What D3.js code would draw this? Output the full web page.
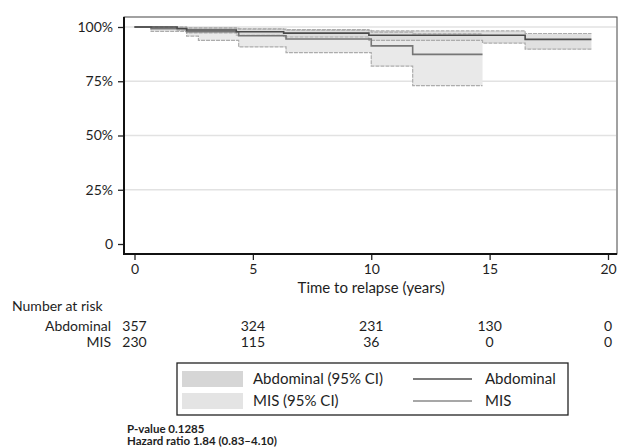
<!DOCTYPE html>
<html>
<head>
<meta charset="utf-8">
<script src="https://cdn.jsdelivr.net/npm/d3@7"></script>
<style>
  body { margin: 0; background: #fff; }
  svg text { font-family: Lato, "Open Sans", sans-serif; fill: #1e1e1e; }
</style>
</head>
<body>
<div id="chart"></div>
<script>
// Kaplan-Meier style step data (percent relapse-free)
const abdTime = [0, 1.8, 2.2, 4.3, 6.3, 9.9, 14.7, 16.5, 19.3];
const abdEst  = [100, 99.3, 98.6, 97.8, 97.2, 96.2, 96.2, 94.3, 94.3];
const abdHi   = [100, 100, 99.6, 99.2, 98.8, 98.2, 98.2, 97.0, 97.0];
const abdLo   = [100, 98.5, 97.3, 96.2, 95.4, 93.8, 92.6, 89.8, 89.8];

const misTime = [0, 0.7, 2.2, 2.7, 4.4, 6.4, 10.0, 11.75, 14.7];
const misEst  = [100, 99.2, 97.8, 97.8, 96.0, 94.5, 91.3, 87.4, 87.4];
const misHi   = [100, 100, 99.5, 99.5, 99.0, 98.5, 97.6, 96.8, 96.8];
const misLo   = [100, 98.0, 95.8, 93.8, 90.8, 88.2, 82.0, 73.0, 73.0];

const xTicks = [0, 5, 10, 15, 20];
const yTicks = [0, 25, 50, 75, 100];
const yTickLabels = ["0", "25%", "50%", "75%", "100%"];

const riskGroups = ["Abdominal", "MIS"];
const riskAbd = [357, 324, 231, 130, 0];
const riskMis = [230, 115, 36, 0, 0];

const width = 618, height = 448;

var svg = d3.select("#chart").append("svg")
    .attr("width", width)
    .attr("height", height);

var x = d3.scaleLinear().domain([0, 20]).range([134.5, 608]);
var y = d3.scaleLinear().domain([0, 100]).range([244, 27]);

var plotLeft = 124, plotRight = 617, plotTop = 17, plotBottom = 254;

// frame
svg.append("rect")
    .attr("x", plotLeft).attr("y", plotTop)
    .attr("width", plotRight - plotLeft).attr("height", plotBottom - plotTop)
    .attr("fill", "none").attr("stroke", "#444").attr("stroke-width", 1);

// gridlines
svg.selectAll("line.grid")
    .data(yTicks.filter(d => d > 0))
    .enter().append("line")
    .attr("class", "grid")
    .attr("x1", plotLeft + 1).attr("x2", plotRight - 1)
    .attr("y1", d => y(d)).attr("y2", d => y(d))
    .attr("stroke", "#e2e2e2").attr("stroke-width", 1.5);

function rows(t, a, b, c) {
    return t.map((d, i) => ({ t: d, est: a[i], hi: b[i], lo: c[i] }));
}
var abdRows = rows(abdTime, abdEst, abdHi, abdLo);
var misRows = rows(misTime, misEst, misHi, misLo);

var area = d3.area()
    .curve(d3.curveStepAfter)
    .x(d => x(d.t))
    .y0(d => y(d.lo))
    .y1(d => y(d.hi));

function stepLine(key) {
    return d3.line()
        .curve(d3.curveStepAfter)
        .x(d => x(d.t))
        .y(d => y(d[key]));
}

// CI bands
svg.append("path").attr("d", area(misRows)).attr("fill", "#e9e9e9");
svg.append("path").attr("d", area(abdRows)).attr("fill", "#dadada").attr("fill-opacity", 0.85);

// CI bounds
[misRows, abdRows].forEach(function (r) {
    ["hi", "lo"].forEach(function (k) {
        svg.append("path")
            .attr("d", stepLine(k)(r))
            .attr("fill", "none")
            .attr("stroke", "#acacac")
            .attr("stroke-width", 1.2)
            .attr("stroke-dasharray", "4,1");
    });
});

// estimates
svg.append("path")
    .attr("d", stepLine("est")(misRows))
    .attr("fill", "none").attr("stroke", "#767676").attr("stroke-width", 1.6);
svg.append("path")
    .attr("d", stepLine("est")(abdRows))
    .attr("fill", "none").attr("stroke", "#4a4a4a").attr("stroke-width", 1.6);

// axes
var yAxis = svg.append("g")
    .attr("transform", "translate(" + plotLeft + ",0)")
    .call(d3.axisLeft(y).tickValues(yTicks).tickSize(6).tickPadding(5)
        .tickFormat((d, i) => yTickLabels[i]));
var xAxis = svg.append("g")
    .attr("transform", "translate(0," + plotBottom + ")")
    .call(d3.axisBottom(x).tickValues(xTicks).tickSize(6).tickPadding(4));

[yAxis, xAxis].forEach(function (g) {
    g.select(".domain").remove();
    g.selectAll(".tick line").attr("stroke", "#222").attr("stroke-width", 1.3);
    g.selectAll(".tick text").style("font-size", "14px").attr("fill", "#1e1e1e");
});

svg.append("line")
    .attr("x1", plotLeft).attr("x2", plotLeft)
    .attr("y1", plotTop).attr("y2", plotBottom + 1)
    .attr("stroke", "#111").attr("stroke-width", 2);
svg.append("line")
    .attr("x1", plotLeft - 1).attr("x2", plotRight)
    .attr("y1", plotBottom).attr("y2", plotBottom)
    .attr("stroke", "#111").attr("stroke-width", 2);

svg.append("text")
    .attr("x", x(10)).attr("y", 293)
    .attr("text-anchor", "middle")
    .style("font-size", "15px")
    .text("Time to relapse (years)");

// number at risk table
svg.append("text")
    .attr("x", 12).attr("y", 311)
    .style("font-size", "14px")
    .text("Number at risk");

var riskData = [riskAbd, riskMis];
riskGroups.forEach(function (g, gi) {
    var yy = 331 + gi * 16;
    svg.append("text")
        .attr("x", 111).attr("y", yy)
        .attr("text-anchor", "end")
        .style("font-size", "14px")
        .text(g);
    svg.selectAll("text.risk" + gi)
        .data(riskData[gi])
        .enter().append("text")
        .attr("class", "risk" + gi)
        .attr("x", (d, i) => x(xTicks[i]))
        .attr("y", yy)
        .attr("text-anchor", "middle")
        .style("font-size", "14px")
        .text(d => d);
});

// legend
var legend = svg.append("g");
legend.append("rect")
    .attr("x", 177).attr("y", 363)
    .attr("width", 391).attr("height", 52)
    .attr("fill", "#fff").attr("stroke", "#222").attr("stroke-width", 1.3);

var legItems = [
    { band: "#d6d6d6", label: "Abdominal (95% CI)", line: "#4f4f4f", name: "Abdominal" },
    { band: "#e4e4e4", label: "MIS (95% CI)", line: "#8a8a8a", name: "MIS" }
];
var leg = legend.selectAll("g.item")
    .data(legItems)
    .enter().append("g")
    .attr("class", "item")
    .attr("transform", (d, i) => "translate(0," + (371 + i * 22) + ")");
leg.append("rect")
    .attr("x", 182).attr("y", 0)
    .attr("width", 61).attr("height", 16)
    .attr("fill", d => d.band);
leg.append("text")
    .attr("x", 253).attr("y", 13)
    .style("font-size", "15px")
    .text(d => d.label);
leg.append("line")
    .attr("x1", 413).attr("x2", 472)
    .attr("y1", 8).attr("y2", 8)
    .attr("stroke", d => d.line).attr("stroke-width", 1.5);
leg.append("text")
    .attr("x", 485).attr("y", 13)
    .style("font-size", "15px")
    .text(d => d.name);

// statistics
svg.append("text")
    .attr("x", 127).attr("y", 433)
    .style("font-size", "11.5px").style("font-weight", "bold")
    .text("P-value 0.1285");
svg.append("text")
    .attr("x", 127).attr("y", 445)
    .style("font-size", "11.5px").style("font-weight", "bold")
    .text("Hazard ratio 1.84 (0.83\u20134.10)");
</script>
</body>
</html>
